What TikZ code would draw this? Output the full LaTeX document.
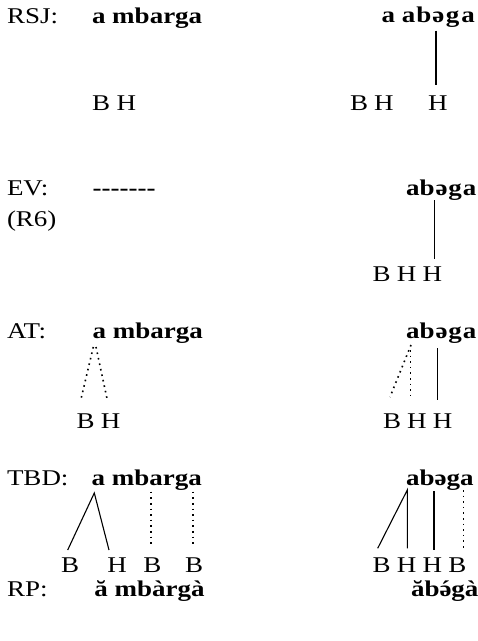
\documentclass[tikz,border=0pt]{standalone}
\usepackage{fontspec}
\setmainfont{Liberation Serif}[FakeStretch=1.2]
\newcommand{\schwaacute}{\ooalign{ə\cr\hidewidth´\hidewidth\cr}}
\newcommand{\hy}{-\kern0pt}
\begin{document}
\begin{tikzpicture}[x=1pt,y=-1pt,
  txt/.style={anchor=base west,inner sep=0pt,outer sep=0pt,font=\fontsize{22.5}{26}\selectfont},
  wrd/.style={txt,font=\fontsize{22.5}{26}\selectfont\bfseries},
  tone/.style={txt},
  assoc/.style={line width=1.1pt},
  dotassoc/.style={line width=1.6pt,dash pattern=on 1.6pt off 4pt}]
\useasboundingbox (0,0) rectangle (478,641);
% ---- RSJ
\node[txt] (lRSJ) at (7,23) {RSJ:};
\node[wrd] (wRSJa) at (92,23) {a mbarga};
\node[wrd] (wRSJb) at (381.7,22) {a a\kern1pt b\kern1pt ə\kern1.5pt g\kern2pt a};
\node[tone] (r1B) at (92,110) {B};
\node[tone] (r1H) at (116.5,110) {H};
\node[tone] (r1Bb) at (350,110) {B};
\node[tone] (r1Hb) at (374.2,110) {H};
\node[tone] (r1Hc) at (428,110) {H};
\coordinate (a1) at (436,30.7);
\coordinate (a1e) at (436,85);
\draw[assoc] (a1) -- (a1e);
% ---- EV
\node[txt] (lEV) at (7,195.7) {EV:};
\node[txt] (lR6) at (7,226.7) {(R6)};
\node[wrd] (dash) at (92.7,195.7) {\hy\hy\hy\hy\hy\hy\hy};
\node[wrd] (wEV) at (406,195) {ab\kern1ptə\kern1pt g\kern1pt a};
\node[tone] (r2B) at (372.7,281.7) {B};
\node[tone] (r2H) at (396.9,281.7) {H};
\node[tone] (r2Hb) at (422.6,281.7) {H};
\coordinate (a2) at (434.7,200);
\coordinate (a2e) at (434.7,259.3);
\draw[assoc] (a2) -- (a2e);
% ---- AT
\node[txt] (lAT) at (7,338) {AT:};
\node[wrd] (wATa) at (92.7,338) {a mbarga};
\node[wrd] (wATb) at (406,338) {ab\kern1ptə\kern1pt g\kern1pt a};
\node[tone] (r3B) at (76.7,428) {B};
\node[tone] (r3H) at (100.9,428) {H};
\node[tone] (r3Bb) at (383,428) {B};
\node[tone] (r3Hb) at (407.2,428) {H};
\node[tone] (r3Hc) at (432.9,428) {H};
\coordinate (b1) at (93.3,347);
\coordinate (b1e) at (81,399);
\coordinate (b2) at (96,347);
\coordinate (b2e) at (107.3,400);
\draw[dotassoc] (b1) -- (b1e);
\draw[dotassoc] (b2) -- (b2e);
\coordinate (b3) at (411,345);
\coordinate (b3e) at (390,397);
\coordinate (b4) at (410.3,350);
\coordinate (b4e) at (410.3,398);
\coordinate (b5) at (437.7,348);
\coordinate (b5e) at (437.7,400);
\draw[dotassoc] (b3) -- (b3e);
\draw[dotassoc] (b4) -- (b4e);
\draw[assoc] (b5) -- (b5e);
% ---- TBD
\node[txt] (lTBD) at (7,485.7) {TBD:};
\node[wrd] (wTBDa) at (91.7,485.5) {a mbarga};
\node[wrd] (wTBDb) at (406,485) {abəga};
\node[tone] (r4B) at (61,572.7) {B};
\node[tone] (r4H) at (107.3,572.7) {H};
\node[tone] (r4Bb) at (143.3,572.7) {B};
\node[tone] (r4Bc) at (185,572.7) {B};
\node[tone] (r4Bd) at (372.7,572.7) {B};
\node[tone] (r4Hd) at (396.9,572.7) {H};
\node[tone] (r4He) at (422.6,572.7) {H};
\node[tone] (r4Be) at (448.3,572.7) {B};
\coordinate (c1) at (94.3,493);
\coordinate (c1e) at (67.7,550);
\coordinate (c2e) at (109,550);
\draw[assoc] (c1e) -- (c1) -- (c2e);
\coordinate (c3) at (151,491.7);
\coordinate (c3e) at (151,546.7);
\coordinate (c4) at (192.7,491.7);
\coordinate (c4e) at (192.7,546.7);
\draw[dotassoc] (c3) -- (c3e);
\draw[dotassoc] (c4) -- (c4e);
\coordinate (d1) at (407.3,490);
\coordinate (d1e) at (377.7,548.3);
\coordinate (d2e) at (407.3,548.3);
\draw[assoc] (d1e) -- (d1) -- (d2e);
\coordinate (d3) at (434,491);
\coordinate (d3e) at (434,550);
\draw[assoc] (d3) -- (d3e);
\coordinate (d4) at (463.3,490);
\coordinate (d4e) at (463.3,548);
\draw[dotassoc] (d4) -- (d4e);
% ---- RP
\node[txt] (lRP) at (7,596.7) {RP:};
\node[wrd] (wRPa) at (94.3,596.7) {ă mbàrgà};
\node[wrd] (wRPb) at (411,596.7) {ăb\schwaacute gà};
\end{tikzpicture}
\end{document}
